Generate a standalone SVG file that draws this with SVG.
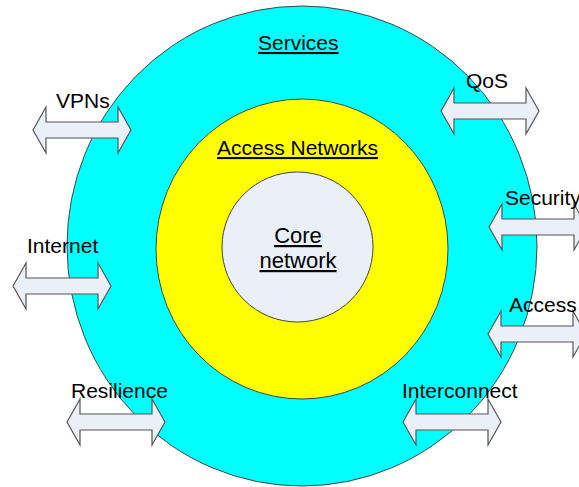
<svg xmlns="http://www.w3.org/2000/svg" xmlns:xlink="http://www.w3.org/1999/xlink" width="579" height="487" viewBox="0 0 579 487">
<style>
text{font-family:"Liberation Sans",Arial,sans-serif;font-size:21px;fill:#000}
.u{text-decoration:underline}
.ring{stroke:#444;stroke-width:1}
.arr{fill:#eaeff8;stroke:#555;stroke-width:1.2;stroke-linejoin:miter}
</style>
<defs>
<path id="dbl" d="M0,0 L13,-23 L13,-8 L85,-8 L85,-23 L98,0 L85,23 L85,8 L13,8 L13,23 Z"/>
</defs>
<rect width="579" height="487" fill="#fff"/>
<g id="services">
<ellipse class="ring" cx="302" cy="246" rx="235" ry="240" fill="#00ffff"/>
<text class="u" x="258" y="50">Services</text>
</g>
<g id="access-networks">
<ellipse class="ring" cx="302" cy="249" rx="146" ry="150" fill="#ffff00"/>
<text class="u" x="217" y="155">Access Networks</text>
</g>
<g id="core-network">
<ellipse class="ring" cx="297.5" cy="247" rx="75.5" ry="75" fill="#eaeff8"/>
<text class="u" x="298" y="243" text-anchor="middle" style="font-size:22px">Core</text>
<text class="u" x="298" y="268" text-anchor="middle" style="font-size:22px">network</text>
</g>
<g id="connectors">
<g id="vpns"><use xlink:href="#dbl" class="arr" transform="translate(33,130)"/><text x="56" y="108">VPNs</text></g>
<g id="qos"><use xlink:href="#dbl" class="arr" transform="translate(441,111)"/><text x="466" y="88">QoS</text></g>
<g id="internet"><use xlink:href="#dbl" class="arr" transform="translate(13,286)"/><text x="27" y="253">Internet</text></g>
<g id="security"><use xlink:href="#dbl" class="arr" transform="translate(489,227)"/><text x="505" y="205">Security</text></g>
<g id="access"><use xlink:href="#dbl" class="arr" transform="translate(488,334)"/><text x="509" y="312">Access</text></g>
<g id="resilience"><use xlink:href="#dbl" class="arr" transform="translate(67,422)"/><text x="71" y="398">Resilience</text></g>
<g id="interconnect"><use xlink:href="#dbl" class="arr" transform="translate(403,422)"/><text x="402" y="398">Interconnect</text></g>
</g>
</svg>
